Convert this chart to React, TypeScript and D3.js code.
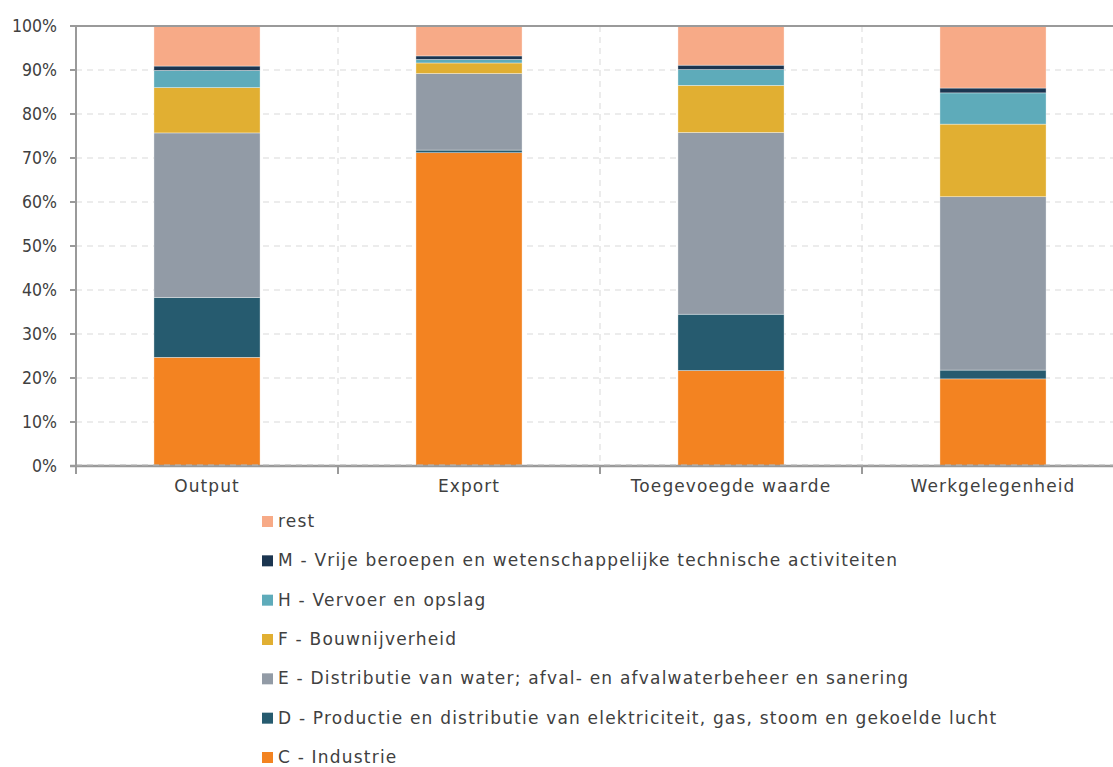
import React, { useEffect, useRef } from 'react'
import * as d3 from 'd3'

const categories = ['Output', 'Export', 'Toegevoegde waarde', 'Werkgelegenheid']

// sectors, bottom to top of the stack
const sectors = [
    'C - Industrie',
    'D - Productie en distributie van elektriciteit, gas, stoom en gekoelde lucht',
    'E - Distributie van water; afval- en afvalwaterbeheer en sanering',
    'F - Bouwnijverheid',
    'H - Vervoer en opslag',
    'M - Vrije beroepen en wetenschappelijke technische activiteiten',
    'rest',
]
const colors = ['#F38321', '#265B6F', '#929BA6', '#E1AF32', '#5EABBA', '#1B3550', '#F7AA87']

// share per sector (%), one row per category
const outputValues = [24.7, 13.6, 37.4, 10.3, 3.9, 1.0, 9.1]
const exportValues = [71.2, 0.6, 17.4, 2.4, 0.8, 0.8, 6.8]
const toegevoegdeValues = [21.7, 12.8, 41.3, 10.7, 3.6, 1.0, 8.9]
const werkValues = [19.8, 2.0, 39.4, 16.5, 7.1, 1.1, 14.1]
const valueRows = [outputValues, exportValues, toegevoegdeValues, werkValues]

const yTicks = [0, 10, 20, 30, 40, 50, 60, 70, 80, 90, 100]

const W = 1113
const H = 767
const NUMFONT = '"DejaVu Sans Condensed", "DejaVu Sans", sans-serif'
const FONT = '"DejaVu Sans", sans-serif'
const TEXT = '#404040'

const App = () => {
    const svgRef = useRef<SVGSVGElement>(null)

    useEffect(() => {
        const svg = d3.select(svgRef.current)
        svg.selectAll('*').remove()

        const left = 76, top = 26, bottom = 466
        const band = 262
        const x = d3.scaleBand<string>().domain(categories).range([left, left + band * 4]).paddingInner(0).paddingOuter(0)
        const y = d3.scaleLinear().domain([0, 100]).range([bottom, top])

        const g = svg.append('g')

        // horizontal grid
        g.selectAll('.hgrid')
            .data(yTicks.filter(t => t > 0 && t < 100))
            .join('line')
            .attr('x1', left).attr('x2', W)
            .attr('y1', d => y(d)).attr('y2', d => y(d))
            .attr('stroke', '#d9d9d9').attr('stroke-dasharray', '6,5')

        // vertical grid at category boundaries
        g.selectAll('.vgrid')
            .data(categories.slice(1))
            .join('line')
            .attr('x1', d => x(d)!).attr('x2', d => x(d)!)
            .attr('y1', top).attr('y2', bottom)
            .attr('stroke', '#d9d9d9').attr('stroke-dasharray', '6,5')

        // stacked bars
        const rows = categories.map((c, i) => {
            const r: any = { cat: c }
            sectors.forEach((s, j) => (r[s] = valueRows[i][j]))
            return r
        })
        const stacked = d3.stack().keys(sectors)(rows)
        const bw = band * 0.405
        g.selectAll('.series')
            .data(stacked)
            .join('g')
            .attr('fill', (_d, i) => colors[i])
            .selectAll('rect')
            .data(d => d)
            .join('rect')
            .attr('x', (d: any) => x(d.data.cat)! + (band - bw) / 2)
            .attr('width', bw)
            .attr('y', d => y(Math.min(d[1], 100)))
            .attr('height', d => y(d[0]) - y(Math.min(d[1], 100)))
            .attr('stroke', '#ffffff').attr('stroke-width', 0.6).attr('stroke-opacity', 0.6)

        // axes lines
        const axisColor = '#9a9a9a'
        g.append('line').attr('x1', left - 6).attr('x2', W).attr('y1', top).attr('y2', top)
            .attr('stroke', axisColor).attr('stroke-width', 2)
        g.append('line').attr('x1', left - 6).attr('x2', W).attr('y1', bottom).attr('y2', bottom)
            .attr('stroke', axisColor).attr('stroke-width', 2.5)
        g.append('line').attr('x1', left).attr('x2', W).attr('y1', bottom - 1).attr('y2', bottom - 1)
            .attr('stroke', '#b8b8b8').attr('stroke-width', 1).attr('stroke-dasharray', '6,5')
        g.append('line').attr('x1', left).attr('x2', left).attr('y1', top).attr('y2', bottom + 8)
            .attr('stroke', axisColor).attr('stroke-width', 2)

        // y ticks
        g.selectAll('.ytick')
            .data(yTicks)
            .join('line')
            .attr('x1', left - 6).attr('x2', left)
            .attr('y1', d => y(d)).attr('y2', d => y(d))
            .attr('stroke', axisColor).attr('stroke-width', 2)
        g.selectAll('.ylab')
            .data(yTicks)
            .join('text')
            .attr('x', left - 19)
            .attr('y', d => y(d))
            .attr('dy', '0.35em')
            .attr('text-anchor', 'end')
            .attr('font-family', NUMFONT).attr('font-size', 17.5).attr('fill', TEXT)
            .text(d => d + '%')

        // x ticks at boundaries
        g.selectAll('.xtick')
            .data(categories.slice(1))
            .join('line')
            .attr('x1', d => x(d)!).attr('x2', d => x(d)!)
            .attr('y1', bottom).attr('y2', bottom + 8)
            .attr('stroke', axisColor).attr('stroke-width', 2)
        g.selectAll('.xlab')
            .data(categories)
            .join('text')
            .attr('x', d => x(d)! + band / 2)
            .attr('y', 492)
            .attr('text-anchor', 'middle')
            .attr('font-family', FONT).attr('font-size', 17).attr('letter-spacing', 1.1).attr('fill', TEXT)
            .text(d => d)

        // legend, top item = last sector
        const legendItems = sectors.map((s, i) => ({ s, c: colors[i] })).reverse()
        const ly = d3.scalePoint<number>().domain(d3.range(legendItems.length)).range([521, 757])
        const lg = g.selectAll('.leg')
            .data(legendItems)
            .join('g')
            .attr('transform', (_d, i) => `translate(262,${ly(i)})`)
        lg.append('rect').attr('x', 0).attr('y', -5).attr('width', 11).attr('height', 11).attr('fill', d => d.c)
        lg.append('text').attr('x', 16).attr('dy', '0.35em')
            .attr('font-family', FONT).attr('font-size', 17).attr('letter-spacing', 1.2).attr('fill', TEXT)
            .text(d => d.s)
    }, [])

    return (
        <svg ref={svgRef} width={W} height={H}
            style={{ position: 'absolute', left: 0, top: 0, background: '#fff', display: 'block' }} />
    )
}

export default App
